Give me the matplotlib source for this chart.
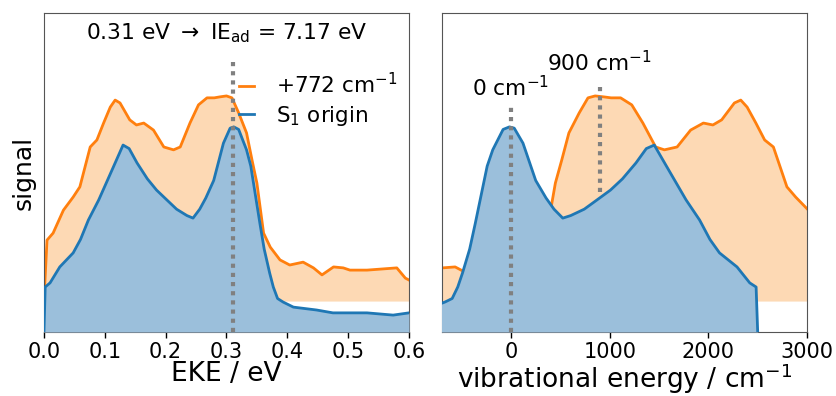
import numpy as np
import matplotlib
matplotlib.use("Agg")
import matplotlib.pyplot as plt

# ---------------- data (signal in axis-fraction units) ----------------
eke_blue = [0.000, 0.002, 0.010, 0.026, 0.048, 0.060, 0.073, 0.090, 0.114, 0.130,
            0.140, 0.153, 0.170, 0.185, 0.202, 0.218, 0.235, 0.245, 0.256, 0.266,
            0.279, 0.295, 0.306, 0.312, 0.320, 0.333, 0.340, 0.347, 0.355, 0.362,
            0.371, 0.377, 0.384, 0.393, 0.410, 0.448, 0.475, 0.531, 0.574, 0.600]
sig_blue = [0.000, 0.141, 0.154, 0.204, 0.248, 0.290, 0.351, 0.414, 0.517, 0.586,
            0.575, 0.530, 0.480, 0.445, 0.414, 0.385, 0.365, 0.357, 0.385, 0.420,
            0.475, 0.592, 0.639, 0.643, 0.635, 0.571, 0.520, 0.436, 0.340, 0.260,
            0.185, 0.141, 0.105, 0.094, 0.078, 0.069, 0.060, 0.060, 0.053, 0.060]

eke_orange = [0.000, 0.005, 0.015, 0.032, 0.048, 0.059, 0.076, 0.087, 0.098, 0.109,
              0.117, 0.125, 0.141, 0.152, 0.164, 0.180, 0.197, 0.213, 0.224, 0.240,
              0.254, 0.268, 0.280, 0.289, 0.300, 0.309, 0.320, 0.333, 0.342, 0.350,
              0.361, 0.372, 0.388, 0.404, 0.426, 0.443, 0.457, 0.476, 0.492, 0.503,
              0.531, 0.580, 0.594, 0.600]
sig_orange = [0.100, 0.288, 0.310, 0.382, 0.423, 0.455, 0.580, 0.602, 0.655, 0.705,
              0.727, 0.718, 0.665, 0.649, 0.655, 0.633, 0.580, 0.571, 0.580, 0.655,
              0.712, 0.734, 0.734, 0.737, 0.740, 0.734, 0.687, 0.624, 0.539, 0.467,
              0.310, 0.266, 0.226, 0.210, 0.219, 0.201, 0.179, 0.204, 0.201, 0.194,
              0.194, 0.201, 0.169, 0.163]
orange_base = 0.097

origin_eke = 0.31           # eV, S1 origin
shift_orange = 772          # cm-1
ev_to_cm = 8065.54
labels = ["+772 cm$^{-1}$", "S$_1$ origin"]
marks_vib = [0, 900]        # cm-1
eke_ticks = [0.0, 0.1, 0.2, 0.3, 0.4, 0.5, 0.6]
vib_ticks = [0, 1000, 2000, 3000]

c_blue = "#1f77b4"
c_orange = "#ff7f0e"
fill_blue = "#9bbfdb"
fill_orange = "#fdd9b4"
dot_col = "#808080"

plt.rcParams["font.family"] = "DejaVu Sans"

fig = plt.figure(figsize=(8.36, 3.96), dpi=100)
axL = fig.add_axes([0.0526, 0.1616, 0.4366, 0.8056])
axR = fig.add_axes([0.5287, 0.1616, 0.4366, 0.8056])

eb = np.array(eke_blue)
sb = np.array(sig_blue)
eo = np.array(eke_orange)
so = np.array(sig_orange)

# ---------- left panel ----------
axL.fill_between(eo, orange_base, so, color=fill_orange, lw=0, zorder=1)
lo, = axL.plot(eo, so, color=c_orange, lw=2, zorder=2, label=labels[0])
axL.fill_between(eb, 0, sb, color=fill_blue, lw=0, zorder=3)
lb, = axL.plot(eb, sb, color=c_blue, lw=2, zorder=4, label=labels[1])
axL.plot([origin_eke, origin_eke], [0, 0.853], ls=(0, (1, 1.2)), lw=3, color=dot_col, zorder=5)
axL.text(0.5, 0.937, r"0.31 eV $\rightarrow$ IE$_{\rm ad}$ = 7.17 eV", transform=axL.transAxes,
         ha="center", va="center", fontsize=15.7)
axL.set_xlim(0, 0.6)
axL.set_ylim(0, 1)
axL.set_yticks([])
axL.set_xticks(eke_ticks)
axL.set_xticklabels([f"{t:.1f}" for t in eke_ticks])
axL.set_xlabel("EKE / eV", fontsize=19, labelpad=-1)
axL.set_ylabel("signal", fontsize=18, labelpad=6)
axL.legend(handles=[lo, lb], loc="upper right", bbox_to_anchor=(1.02, 0.875), frameon=False,
           fontsize=15.5, handlelength=0.7, handletextpad=1.0, labelspacing=0.3)

# ---------- right panel ----------
vib_b = (origin_eke - eb) * ev_to_cm
vib_o = (origin_eke + shift_orange / ev_to_cm - eo) * ev_to_cm
axR.fill_between(vib_o, orange_base, so, color=fill_orange, lw=0, zorder=1)
axR.plot(vib_o, so, color=c_orange, lw=2, zorder=2)
axR.fill_between(vib_b, 0, sb, color=fill_blue, lw=0, zorder=3)
axR.plot(vib_b, sb, color=c_blue, lw=2, zorder=4)
axR.plot([marks_vib[0]] * 2, [0, 0.705], ls=(0, (1, 1.2)), lw=3, color=dot_col, zorder=5)
axR.plot([marks_vib[1]] * 2, [0.439, 0.784], ls=(0, (1, 1.2)), lw=3, color=dot_col, zorder=5)
axR.text(marks_vib[0], 0.765, "0 cm$^{-1}$", ha="center", va="center", fontsize=15.7)
axR.text(marks_vib[1], 0.843, "900 cm$^{-1}$", ha="center", va="center", fontsize=15.7)
axR.set_xlim(-700, 3000)
axR.set_ylim(0, 1)
axR.set_yticks([])
axR.set_xticks(vib_ticks)
axR.set_xlabel("vibrational energy / cm$^{-1}$", fontsize=19, labelpad=-1)

for ax in (axL, axR):
    ax.tick_params(axis="x", labelsize=15, length=4, width=1)
    for s in ax.spines.values():
        s.set_color("#555555")

fig.savefig("out.png", dpi=100)
